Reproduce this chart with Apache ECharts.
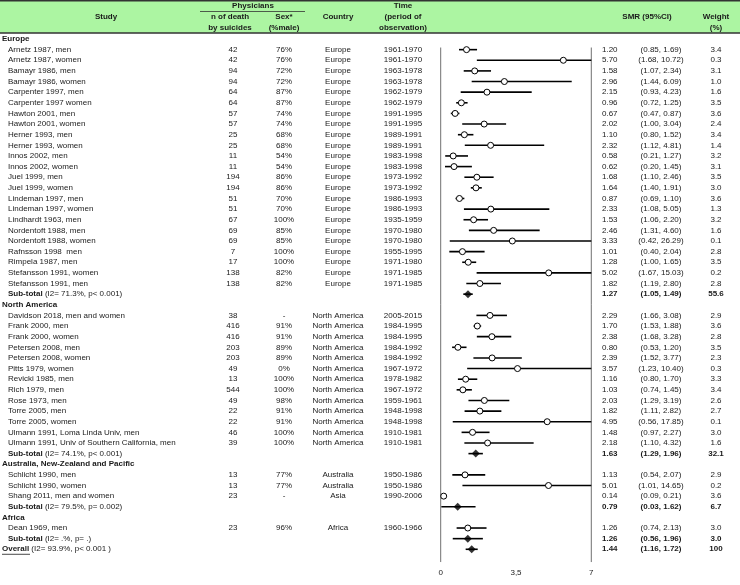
<!DOCTYPE html>
<html>
<head>
<meta charset="utf-8">
<script src="https://cdn.jsdelivr.net/npm/echarts@6/dist/echarts.min.js"></script>
<style>
  html, body { margin: 0; padding: 0; background: #fff; }
  #forest { width: 740px; height: 585px; }
</style>
</head>
<body>
<div id="forest"></div>
<script>
// one entry per table row, top to bottom
// kinds: g = region header, s = study, t = sub-total, o = overall
const rowKinds = ['g',
  's','s','s','s','s','s','s','s','s','s','s','s','s','s','s','s','s','s','s','s','s','s','s','t',
  'g','s','s','s','s','s','s','s','s','s','s','s','s','s','t',
  'g','s','s','s','t',
  'g','s','t','o']

const rowLabels = ['Europe',
  'Arnetz 1987, men', 'Arnetz 1987, women', 'Bamayr 1986, men', 'Bamayr 1986, women',
  'Carpenter 1997, men', 'Carpenter 1997 women', 'Hawton 2001, men', 'Hawton 2001, women',
  'Herner 1993, men', 'Herner 1993, women', 'Innos 2002, men', 'Innos 2002, women',
  'Juel 1999, men', 'Juel 1999, women', 'Lindeman 1997, men', 'Lindeman 1997, women',
  'Lindhardt 1963, men', 'Nordentoft 1988, men', 'Nordentoft 1988, women', 'Rafnsson 1998  men',
  'Rimpela 1987, men', 'Stefansson 1991, women', 'Stefansson 1991, men',
  '(I2= 71.3%, p< 0.001)',
  'North America',
  'Davidson 2018, men and women', 'Frank 2000, men', 'Frank 2000, women', 'Petersen 2008, men',
  'Petersen 2008, women', 'Pitts 1979, women', 'Revicki 1985, men', 'Rich 1979, men',
  'Rose 1973, men', 'Torre 2005, men', 'Torre 2005, women',
  'Ulmann 1991, Loma Linda Univ, men', 'Ulmann 1991, Univ of Southern California, men',
  '(I2= 74.1%, p< 0.001)',
  'Australia, New-Zealand and Pacific',
  'Schlicht 1990, men', 'Schlicht 1990, women', 'Shang 2011, men and women',
  '(I2= 79.5%, p= 0.002)',
  'Africa',
  'Dean 1969, men',
  '(I2= .%, p= .)',
  '(I2= 93.9%, p< 0.001 )']

const deaths = [null,
  42, 42, 94, 94, 64, 64, 57, 57, 25, 25, 11, 11, 194, 194, 51, 51, 67, 69, 69, 7, 17, 138, 138, null,
  null, 38, 416, 416, 203, 203, 49, 13, 544, 49, 22, 22, 46, 39, null,
  null, 13, 13, 23, null,
  null, 23, null, null]

const sexMale = [null,
  '76%','76%','72%','72%','87%','87%','74%','74%','68%','68%','54%','54%','86%','86%','70%','70%','100%','85%','85%','100%','100%','82%','82%', null,
  null, '-','91%','91%','89%','89%','0%','100%','100%','98%','91%','91%','100%','100%', null,
  null, '77%','77%','-', null,
  null, '96%', null, null]

const countries = [null,
  'Europe','Europe','Europe','Europe','Europe','Europe','Europe','Europe','Europe','Europe','Europe','Europe',
  'Europe','Europe','Europe','Europe','Europe','Europe','Europe','Europe','Europe','Europe','Europe', null,
  null, 'North America','North America','North America','North America','North America','North America',
  'North America','North America','North America','North America','North America','North America','North America', null,
  null, 'Australia','Australia','Asia', null,
  null, 'Africa', null, null]

const periods = [null,
  '1961-1970','1961-1970','1963-1978','1963-1978','1962-1979','1962-1979','1991-1995','1991-1995',
  '1989-1991','1989-1991','1983-1998','1983-1998','1973-1992','1973-1992','1986-1993','1986-1993',
  '1935-1959','1970-1980','1970-1980','1955-1995','1971-1980','1971-1985','1971-1985', null,
  null, '2005-2015','1984-1995','1984-1995','1984-1992','1984-1992','1967-1972','1978-1982','1967-1972',
  '1959-1961','1948-1998','1948-1998','1910-1981','1910-1981', null,
  null, '1950-1986','1950-1986','1990-2006', null,
  null, '1960-1966', null, null]

const smr = [null,
  1.20, 5.70, 1.58, 2.96, 2.15, 0.96, 0.67, 2.02, 1.10, 2.32, 0.58, 0.62, 1.68, 1.64, 0.87, 2.33, 1.53, 2.46, 3.33, 1.01, 1.28, 5.02, 1.82, 1.27,
  null, 2.29, 1.70, 2.38, 0.80, 2.39, 3.57, 1.16, 1.03, 2.03, 1.82, 4.95, 1.48, 2.18, 1.63,
  null, 1.13, 5.01, 0.14, 0.79,
  null, 1.26, 1.26, 1.44]

const ciLow = [null,
  0.85, 1.68, 1.07, 1.44, 0.93, 0.72, 0.47, 1.00, 0.80, 1.12, 0.21, 0.20, 1.10, 1.40, 0.69, 1.08, 1.06, 1.31, 0.42, 0.40, 1.00, 1.67, 1.19, 1.05,
  null, 1.66, 1.53, 1.68, 0.53, 1.52, 1.23, 0.80, 0.74, 1.29, 1.11, 0.56, 0.97, 1.10, 1.29,
  null, 0.54, 1.01, 0.09, 0.03,
  null, 0.74, 0.56, 1.16]

const ciHigh = [null,
  1.69, 10.72, 2.34, 6.09, 4.23, 1.25, 0.87, 3.04, 1.52, 4.81, 1.27, 1.45, 2.46, 1.91, 1.10, 5.05, 2.20, 4.60, 26.29, 2.04, 1.65, 15.03, 2.80, 1.49,
  null, 3.08, 1.88, 3.28, 1.20, 3.77, 10.40, 1.70, 1.45, 3.19, 2.82, 17.85, 2.27, 4.32, 1.96,
  null, 2.07, 14.65, 0.21, 1.62,
  null, 2.13, 1.96, 1.72]

const weights = [null,
  3.4, 0.3, 3.1, 1.0, 1.6, 3.5, 3.6, 2.4, 3.4, 1.4, 3.2, 3.1, 3.5, 3.0, 3.6, 1.3, 3.2, 1.6, 0.1, 2.8, 3.5, 0.2, 2.8, 55.6,
  null, 2.9, 3.6, 2.8, 3.5, 2.3, 0.3, 3.3, 3.4, 2.6, 2.7, 0.1, 3.0, 1.6, 32.1,
  null, 2.9, 0.2, 3.6, 6.7,
  null, 3.0, 3.0, 100]

const xTicks = [0, 3.5, 7]
const refLines = [0, 7]

const FONT = '"Liberation Sans", Arial, sans-serif'
const INK = '#1a1a1a'
const X_MIN = 0, X_MAX = 7

const chart = echarts.init(document.getElementById('forest'), null, { renderer: 'canvas' })

const rowIdx = rowKinds.map((k, i) => i)
const studyPts = rowIdx.filter(i => rowKinds[i] === 's').map(i => [smr[i], i])
const poolPts = rowIdx.filter(i => rowKinds[i] === 't' || rowKinds[i] === 'o').map(i => [smr[i], i])
const ciRows = rowIdx.filter(i => smr[i] != null).map(i => [ciLow[i], i, ciHigh[i]])

const fmtW = w => (w === 100 ? '100' : w.toFixed(1))

function textEl(x, y, s, align, bold, rich) {
  return {
    type: 'text', x, y,
    style: {
      text: s, fill: INK,
      font: (bold ? 'bold ' : '') + '8px ' + FONT,
      textAlign: align, textVerticalAlign: 'middle',
      rich
    }
  }
}

const richBold = { b: { fontWeight: 'bold', fontSize: 8, fontFamily: FONT, fill: INK } }

function renderTableRow(params, api) {
  const i = api.value(1)
  const y = api.coord([0, i])[1]
  const kind = rowKinds[i]
  const kids = []
  if (kind === 'g') {
    kids.push(textEl(2, y, rowLabels[i], 'left', true))
  } else if (kind === 's') {
    kids.push(textEl(8, y, rowLabels[i], 'left', false))
    kids.push(textEl(233, y, String(deaths[i]), 'center', false))
    kids.push(textEl(284, y, sexMale[i], 'center', false))
    kids.push(textEl(338, y, countries[i], 'center', false))
    kids.push(textEl(403, y, periods[i], 'center', false))
  } else if (kind === 't') {
    kids.push(textEl(8, y, '{b|Sub-total} ' + rowLabels[i], 'left', false, richBold))
  } else {
    kids.push(textEl(2, y, '{b|Overall} ' + rowLabels[i], 'left', false, richBold))
    kids.push({ type: 'line', shape: { x1: 2, y1: y + 5, x2: 30, y2: y + 5 }, style: { stroke: INK, lineWidth: 0.8 } })
  }
  if (smr[i] != null) {
    const bold = kind !== 's'
    kids.push(textEl(602, y, smr[i].toFixed(2), 'left', bold))
    kids.push(textEl(661, y, '(' + ciLow[i].toFixed(2) + ', ' + ciHigh[i].toFixed(2) + ')', 'center', bold))
    kids.push(textEl(716, y, fmtW(weights[i]), 'center', bold))
  }
  return { type: 'group', children: kids }
}

function renderCI(params, api) {
  const lo = Math.max(api.value(0), X_MIN)
  const hi = Math.min(api.value(2), X_MAX)
  const i = api.value(1)
  const p1 = api.coord([lo, i])
  const p2 = api.coord([hi, i])
  return {
    type: 'line',
    shape: { x1: p1[0], y1: p1[1], x2: p2[0], y2: p2[1] },
    style: { stroke: '#000', lineWidth: 1.6 }
  }
}

function renderRef(params, api) {
  const v = api.value(0)
  const top = api.coord([v, 0.8])
  const bot = api.coord([v, 49.2])
  return {
    type: 'line',
    shape: { x1: top[0], y1: top[1], x2: bot[0], y2: bot[1] },
    style: { stroke: '#707070', lineWidth: 1 }
  }
}

const hdrFont = 'bold 8px ' + FONT
const hdr = (x, y, s) => ({
  type: 'text', x, y, z: 10,
  style: { text: s, font: hdrFont, fill: INK, textAlign: 'center', textVerticalAlign: 'middle' }
})

const option = {
  animation: false,
  backgroundColor: '#fff',
  grid: { left: 440.7, right: 148.7, top: 33.7, height: 520.9 },
  xAxis: {
    type: 'value', min: X_MIN, max: X_MAX, interval: 3.5,
    axisLine: { show: false }, axisTick: { show: false }, splitLine: { show: false },
    axisLabel: {
      margin: 14, fontSize: 8, fontFamily: FONT, color: INK,
      formatter: v => (xTicks.includes(v) ? String(v).replace('.', ',') : '')
    }
  },
  yAxis: { type: 'value', inverse: true, min: -0.5, max: 48.5, show: false },
  graphic: [
    { type: 'rect', shape: { x: 0, y: 0, width: 740, height: 33 }, style: { fill: '#acf5a2' }, z: 1 },
    { type: 'line', shape: { x1: 0, y1: 0.8, x2: 740, y2: 0.8 }, style: { stroke: '#333', lineWidth: 1.6 }, z: 2 },
    { type: 'line', shape: { x1: 0, y1: 33, x2: 740, y2: 33 }, style: { stroke: '#333', lineWidth: 1.6 }, z: 2 },
    { type: 'line', shape: { x1: 200, y1: 11.5, x2: 305, y2: 11.5 }, style: { stroke: '#333', lineWidth: 0.8 }, z: 2 },
    hdr(253, 6, 'Physicians'),
    hdr(106, 17, 'Study'),
    hdr(230, 17, 'n of death'), hdr(230, 28, 'by suicides'),
    hdr(284, 17, 'Sex*'), hdr(284, 28, '(%male)'),
    hdr(338, 17, 'Country'),
    hdr(403, 6, 'Time'), hdr(403, 17, '(period of'), hdr(403, 28, 'observation)'),
    hdr(647, 17, 'SMR (95%CI)'),
    hdr(716, 17, 'Weight'), hdr(716, 28, '(%)')
  ],
  series: [
    { type: 'custom', name: 'ref', clip: false, silent: true, data: refLines.map(v => [v, 0]), renderItem: renderRef },
    { type: 'custom', name: 'ci', clip: false, silent: true, data: ciRows, renderItem: renderCI, encode: { x: [0, 2], y: 1 } },
    {
      type: 'scatter', name: 'study', data: studyPts, symbol: 'circle', symbolSize: 6,
      itemStyle: { color: '#fff', borderColor: '#000', borderWidth: 1, opacity: 1 }
    },
    {
      type: 'scatter', name: 'pooled', data: poolPts, symbol: 'diamond', symbolSize: [8, 8],
      itemStyle: { color: '#000' }
    },
    { type: 'custom', name: 'table', clip: false, silent: true, data: rowIdx.map(i => [0, i]), renderItem: renderTableRow }
  ]
}

chart.setOption(option)
</script>
</body>
</html>
